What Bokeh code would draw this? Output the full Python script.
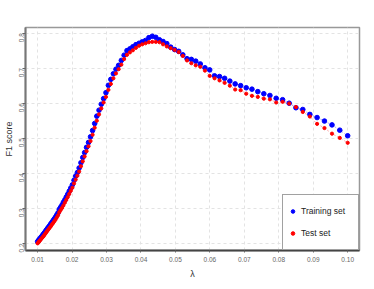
import math
from bokeh.plotting import figure
from bokeh.models import FixedTicker, NumeralTickFormatter, Legend, LegendItem, Range1d
from bokeh.embed import file_html
from bokeh.resources import INLINE

lam = [0.01000, 0.01024, 0.01048, 0.01072, 0.01097, 0.01123, 0.01149, 0.01176, 0.01204, 0.01233,
       0.01262, 0.01291, 0.01322, 0.01353, 0.01385, 0.01417, 0.01450, 0.01485, 0.01520, 0.01555,
       0.01592, 0.01630, 0.01668, 0.01707, 0.01747, 0.01789, 0.01831, 0.01874, 0.01918, 0.01963,
       0.02009, 0.02057, 0.02105, 0.02154, 0.02205, 0.02257, 0.02310, 0.02364, 0.02420, 0.02477,
       0.02535, 0.02595, 0.02656, 0.02718, 0.02782, 0.02848, 0.02915, 0.02983, 0.03054, 0.03125,
       0.03199, 0.03274, 0.03351, 0.03430, 0.03511, 0.03593, 0.03678, 0.03764, 0.03853, 0.03944,
       0.04037, 0.04132, 0.04229, 0.04328, 0.04430, 0.04535, 0.04641, 0.04750, 0.04862, 0.04977,
       0.05094, 0.05214, 0.05336, 0.05462, 0.05590, 0.05722, 0.05857, 0.05995, 0.06136, 0.06280,
       0.06428, 0.06579, 0.06734, 0.06893, 0.07055, 0.07221, 0.07391, 0.07565, 0.07743, 0.07925,
       0.08111, 0.08302, 0.08498, 0.08697, 0.08902, 0.09112, 0.09326, 0.09545, 0.09770, 0.10000]

training = [0.205, 0.208, 0.211, 0.214, 0.217, 0.220, 0.224, 0.227, 0.231, 0.235,
            0.239, 0.243, 0.247, 0.251, 0.256, 0.260, 0.265, 0.270, 0.275, 0.281,
            0.287, 0.297, 0.303, 0.309, 0.317, 0.324, 0.332, 0.340, 0.349, 0.358,
            0.367, 0.380, 0.392, 0.402, 0.415, 0.430, 0.445, 0.459, 0.474, 0.488,
            0.504, 0.522, 0.542, 0.563, 0.580, 0.597, 0.613, 0.630, 0.651, 0.668,
            0.684, 0.697, 0.708, 0.722, 0.737, 0.750, 0.755, 0.761, 0.767, 0.771,
            0.775, 0.779, 0.787, 0.791, 0.788, 0.781, 0.776, 0.770, 0.760, 0.753,
            0.748, 0.738, 0.727, 0.725, 0.720, 0.712, 0.701, 0.695, 0.678, 0.676,
            0.671, 0.663, 0.655, 0.650, 0.644, 0.640, 0.633, 0.627, 0.622, 0.614,
            0.610, 0.600, 0.587, 0.582, 0.568, 0.559, 0.549, 0.538, 0.523, 0.507]

test = [0.200, 0.203, 0.206, 0.209, 0.212, 0.215, 0.218, 0.221, 0.225, 0.229,
        0.233, 0.237, 0.241, 0.245, 0.249, 0.254, 0.258, 0.263, 0.268, 0.274,
        0.280, 0.289, 0.295, 0.301, 0.308, 0.316, 0.324, 0.332, 0.341, 0.350,
        0.359, 0.371, 0.382, 0.393, 0.405, 0.420, 0.434, 0.448, 0.463, 0.477,
        0.492, 0.510, 0.530, 0.550, 0.568, 0.585, 0.602, 0.618, 0.638, 0.655,
        0.671, 0.685, 0.697, 0.710, 0.726, 0.738, 0.745, 0.751, 0.758, 0.764,
        0.768, 0.771, 0.774, 0.775, 0.775, 0.774, 0.768, 0.762, 0.757, 0.752,
        0.746, 0.735, 0.722, 0.714, 0.708, 0.704, 0.693, 0.678, 0.671, 0.665,
        0.658, 0.650, 0.639, 0.637, 0.627, 0.621, 0.618, 0.613, 0.611, 0.602,
        0.604, 0.599, 0.589, 0.575, 0.562, 0.541, 0.529, 0.513, 0.501, 0.487]

x_ticks = [0.01, 0.02, 0.03, 0.04, 0.05, 0.06, 0.07, 0.08, 0.09, 0.10]
y_ticks = [0.2, 0.3, 0.4, 0.5, 0.6, 0.7, 0.8]

FONT = "Liberation Sans"

p = figure(width=366, height=281, output_backend="svg", toolbar_location=None,
           x_range=Range1d(0.00648, 0.10343), y_range=Range1d(0.1796, 0.816),
           min_border_left=0, min_border_right=7, min_border_top=27, min_border_bottom=10)
p.background_fill_color = "white"
p.outline_line_color = "#999999"
p.outline_line_width = 1.5

for ax in (p.xaxis, p.yaxis):
    ax.major_label_text_font = FONT
    ax.major_label_text_font_size = "6.5px"
    ax.major_label_text_color = "#666666"
    ax.axis_label_text_font = FONT
    ax.axis_label_text_font_style = "normal"
    ax.axis_label_text_color = "#333333"
    ax.axis_label_text_font_size = "9px"
    ax.minor_tick_line_color = None
    ax.major_tick_in = 0
    ax.major_tick_line_color = "#666666"

p.xaxis.ticker = FixedTicker(ticks=x_ticks)
p.xaxis.formatter = NumeralTickFormatter(format="0.00")
p.xaxis.axis_label = "λ"
p.xaxis.axis_line_color = "#444444"
p.xaxis.axis_line_width = 2
p.xaxis.major_tick_out = 2
p.xaxis.major_label_standoff = 4
p.xaxis.axis_label_standoff = 4

p.yaxis.ticker = FixedTicker(ticks=y_ticks)
p.yaxis.formatter = NumeralTickFormatter(format="0.0")
p.yaxis.axis_label = "F1 score"
p.yaxis.axis_line_color = "#777777"
p.yaxis.axis_line_width = 2
p.yaxis.major_tick_out = 3
p.yaxis.major_label_orientation = math.pi / 2
p.yaxis.major_label_standoff = 1
p.yaxis.axis_label_standoff = 0

for g in (p.xgrid, p.ygrid):
    g.grid_line_color = "#e3e3e3"
    g.grid_line_dash = "3 3"
    g.grid_line_width = 1

p.line(lam, training, line_color="#8888ff", line_dash="2 2", line_width=1, line_alpha=0.7)
p.line(lam, test, line_color="#ff8888", line_dash="2 2", line_width=1, line_alpha=0.7)
r_train = p.scatter(lam, training, size=4.6, fill_color="#0000ff", line_color="#0000ff")
r_test = p.scatter(lam, test, size=3.2, fill_color="#ff0000", line_color="#ff0000")

legend = Legend(items=[LegendItem(label="Training set", renderers=[r_train]),
                       LegendItem(label="Test set", renderers=[r_test])],
                location="bottom_right", margin=0, padding=5, spacing=-6,
                glyph_width=9, glyph_height=22, label_height=22, label_width=52,
                label_standoff=4,
                label_text_font=FONT, label_text_font_size="8.5px", label_text_color="#222222",
                border_line_color="#444444", border_line_width=1,
                background_fill_color="white", background_fill_alpha=1.0)
p.add_layout(legend)

open("out.html", "w").write(file_html(p, INLINE))
